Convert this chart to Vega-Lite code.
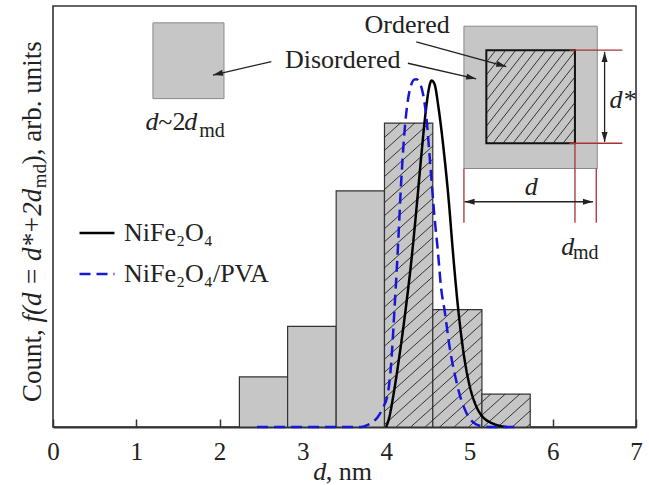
{
  "$schema": "https://vega.github.io/schema/vega-lite/v6.json",
  "width": 583,
  "height": 421,
  "autosize": {"type": "none"},
  "padding": {"left": 53, "top": 6, "right": 13, "bottom": 58},
  "background": "white",
  "config": {
    "view": {"stroke": "#333", "strokeWidth": 1.6},
    "font": "Liberation Serif",
    "axisX": {
      "grid": false,
      "title": null,
      "tickSize": -8,
      "tickColor": "#333",
      "tickWidth": 1.5,
      "domainColor": "#333",
      "domainWidth": 2,
      "labelFont": "Liberation Serif",
      "labelFontSize": 25,
      "labelColor": "#222",
      "labelPadding": 40,
      "labelBaseline": "alphabetic",
      "labelFlush": false,
      "labelOverlap": false
    }
  },
  "datasets": {
    "bars": [
      {"d0": 2.238, "d1": 2.817, "count": 11.9},
      {"d0": 2.817, "d1": 3.40, "count": 23.9},
      {"d0": 3.40, "d1": 3.98, "count": 56.1},
      {"d0": 3.98, "d1": 4.56, "count": 72.2},
      {"d0": 4.56, "d1": 5.15, "count": 27.9},
      {"d0": 5.15, "d1": 5.73, "count": 7.8}
    ],
    "hatch": [
      {"x": 4.469, "y": 0, "x2": 4.56, "y2": 1.62},
      {"x": 4.295, "y": 0, "x2": 4.56, "y2": 4.72},
      {"x": 4.12, "y": 0, "x2": 4.56, "y2": 7.82},
      {"x": 3.98, "y": 0.6, "x2": 4.56, "y2": 10.92},
      {"x": 3.98, "y": 3.7, "x2": 4.56, "y2": 14.02},
      {"x": 3.98, "y": 6.8, "x2": 4.56, "y2": 17.12},
      {"x": 3.98, "y": 9.9, "x2": 4.56, "y2": 20.22},
      {"x": 3.98, "y": 13.0, "x2": 4.56, "y2": 23.32},
      {"x": 3.98, "y": 16.1, "x2": 4.56, "y2": 26.42},
      {"x": 3.98, "y": 19.2, "x2": 4.56, "y2": 29.52},
      {"x": 3.98, "y": 22.3, "x2": 4.56, "y2": 32.62},
      {"x": 3.98, "y": 25.4, "x2": 4.56, "y2": 35.72},
      {"x": 3.98, "y": 28.5, "x2": 4.56, "y2": 38.82},
      {"x": 3.98, "y": 31.6, "x2": 4.56, "y2": 41.92},
      {"x": 3.98, "y": 34.7, "x2": 4.56, "y2": 45.02},
      {"x": 3.98, "y": 37.8, "x2": 4.56, "y2": 48.12},
      {"x": 3.98, "y": 40.9, "x2": 4.56, "y2": 51.22},
      {"x": 3.98, "y": 44.0, "x2": 4.56, "y2": 54.32},
      {"x": 3.98, "y": 47.1, "x2": 4.56, "y2": 57.42},
      {"x": 3.98, "y": 50.2, "x2": 4.56, "y2": 60.52},
      {"x": 3.98, "y": 53.3, "x2": 4.56, "y2": 63.62},
      {"x": 3.98, "y": 56.4, "x2": 4.56, "y2": 66.72},
      {"x": 3.98, "y": 59.5, "x2": 4.56, "y2": 69.82},
      {"x": 3.98, "y": 62.6, "x2": 4.519, "y2": 72.2},
      {"x": 3.98, "y": 65.7, "x2": 4.345, "y2": 72.2},
      {"x": 3.98, "y": 68.8, "x2": 4.171, "y2": 72.2},
      {"x": 4.991, "y": 0, "x2": 5.15, "y2": 2.83},
      {"x": 4.817, "y": 0, "x2": 5.15, "y2": 5.93},
      {"x": 4.643, "y": 0, "x2": 5.15, "y2": 9.03},
      {"x": 4.56, "y": 1.62, "x2": 5.15, "y2": 12.13},
      {"x": 4.56, "y": 4.72, "x2": 5.15, "y2": 15.23},
      {"x": 4.56, "y": 7.82, "x2": 5.15, "y2": 18.33},
      {"x": 4.56, "y": 10.92, "x2": 5.15, "y2": 21.43},
      {"x": 4.56, "y": 14.02, "x2": 5.15, "y2": 24.53},
      {"x": 4.56, "y": 17.12, "x2": 5.15, "y2": 27.63},
      {"x": 4.56, "y": 20.22, "x2": 4.991, "y2": 27.9},
      {"x": 4.56, "y": 23.32, "x2": 4.817, "y2": 27.9},
      {"x": 4.56, "y": 26.42, "x2": 4.643, "y2": 27.9},
      {"x": 5.688, "y": 0, "x2": 5.73, "y2": 0.75},
      {"x": 5.514, "y": 0, "x2": 5.73, "y2": 3.85},
      {"x": 5.34, "y": 0, "x2": 5.73, "y2": 6.95},
      {"x": 5.165, "y": 0, "x2": 5.604, "y2": 7.8},
      {"x": 5.15, "y": 2.83, "x2": 5.429, "y2": 7.8},
      {"x": 5.15, "y": 5.93, "x2": 5.255, "y2": 7.8},
      {"x": 6.125, "y": 67.4, "x2": 6.267, "y2": 71.0},
      {"x": 6.005, "y": 67.4, "x2": 6.267, "y2": 74.04},
      {"x": 5.884, "y": 67.4, "x2": 6.267, "y2": 77.08},
      {"x": 5.764, "y": 67.4, "x2": 6.267, "y2": 80.12},
      {"x": 5.644, "y": 67.4, "x2": 6.267, "y2": 83.16},
      {"x": 5.524, "y": 67.4, "x2": 6.267, "y2": 86.2},
      {"x": 5.404, "y": 67.4, "x2": 6.267, "y2": 89.24},
      {"x": 5.284, "y": 67.4, "x2": 6.157, "y2": 89.5},
      {"x": 5.203, "y": 68.4, "x2": 6.037, "y2": 89.5},
      {"x": 5.203, "y": 71.44, "x2": 5.917, "y2": 89.5},
      {"x": 5.203, "y": 74.48, "x2": 5.797, "y2": 89.5},
      {"x": 5.203, "y": 77.52, "x2": 5.677, "y2": 89.5},
      {"x": 5.203, "y": 80.56, "x2": 5.556, "y2": 89.5},
      {"x": 5.203, "y": 83.6, "x2": 5.436, "y2": 89.5},
      {"x": 5.203, "y": 86.64, "x2": 5.316, "y2": 89.5}
    ],
    "curves": [
      {"sample": "NiFe₂O₄", "d": 4.00, "f": 0},
      {"sample": "NiFe₂O₄", "d": 4.04, "f": 2.5},
      {"sample": "NiFe₂O₄", "d": 4.09, "f": 7.9},
      {"sample": "NiFe₂O₄", "d": 4.16, "f": 17},
      {"sample": "NiFe₂O₄", "d": 4.234, "f": 27.9},
      {"sample": "NiFe₂O₄", "d": 4.30, "f": 39},
      {"sample": "NiFe₂O₄", "d": 4.36, "f": 51},
      {"sample": "NiFe₂O₄", "d": 4.42, "f": 64},
      {"sample": "NiFe₂O₄", "d": 4.47, "f": 74},
      {"sample": "NiFe₂O₄", "d": 4.51, "f": 80},
      {"sample": "NiFe₂O₄", "d": 4.545, "f": 82.3},
      {"sample": "NiFe₂O₄", "d": 4.58, "f": 81.5},
      {"sample": "NiFe₂O₄", "d": 4.627, "f": 76.1},
      {"sample": "NiFe₂O₄", "d": 4.691, "f": 65.8},
      {"sample": "NiFe₂O₄", "d": 4.751, "f": 53.9},
      {"sample": "NiFe₂O₄", "d": 4.80, "f": 42},
      {"sample": "NiFe₂O₄", "d": 4.86, "f": 29},
      {"sample": "NiFe₂O₄", "d": 4.925, "f": 18.2},
      {"sample": "NiFe₂O₄", "d": 5.0, "f": 10.0},
      {"sample": "NiFe₂O₄", "d": 5.08, "f": 5.0},
      {"sample": "NiFe₂O₄", "d": 5.16, "f": 2.4},
      {"sample": "NiFe₂O₄", "d": 5.26, "f": 1.0},
      {"sample": "NiFe₂O₄", "d": 5.36, "f": 0.3},
      {"sample": "NiFe₂O₄", "d": 5.45, "f": 0},
      {"sample": "NiFe₂O₄/PVA", "d": 2.45, "f": 0},
      {"sample": "NiFe₂O₄/PVA", "d": 3.70, "f": 0},
      {"sample": "NiFe₂O₄/PVA", "d": 3.78, "f": 0.5},
      {"sample": "NiFe₂O₄/PVA", "d": 3.84, "f": 1.2},
      {"sample": "NiFe₂O₄/PVA", "d": 3.90, "f": 2.4},
      {"sample": "NiFe₂O₄/PVA", "d": 3.96, "f": 4.5},
      {"sample": "NiFe₂O₄/PVA", "d": 4.02, "f": 7.9},
      {"sample": "NiFe₂O₄/PVA", "d": 4.06, "f": 15},
      {"sample": "NiFe₂O₄/PVA", "d": 4.10, "f": 27.9},
      {"sample": "NiFe₂O₄/PVA", "d": 4.14, "f": 42},
      {"sample": "NiFe₂O₄/PVA", "d": 4.18, "f": 58},
      {"sample": "NiFe₂O₄/PVA", "d": 4.22, "f": 70},
      {"sample": "NiFe₂O₄/PVA", "d": 4.26, "f": 77.5},
      {"sample": "NiFe₂O₄/PVA", "d": 4.30, "f": 81.2},
      {"sample": "NiFe₂O₄/PVA", "d": 4.335, "f": 82.5},
      {"sample": "NiFe₂O₄/PVA", "d": 4.365, "f": 82.6},
      {"sample": "NiFe₂O₄/PVA", "d": 4.40, "f": 81.8},
      {"sample": "NiFe₂O₄/PVA", "d": 4.433, "f": 80},
      {"sample": "NiFe₂O₄/PVA", "d": 4.482, "f": 73.7},
      {"sample": "NiFe₂O₄/PVA", "d": 4.532, "f": 61.8},
      {"sample": "NiFe₂O₄/PVA", "d": 4.58, "f": 50},
      {"sample": "NiFe₂O₄/PVA", "d": 4.62, "f": 42},
      {"sample": "NiFe₂O₄/PVA", "d": 4.66, "f": 33},
      {"sample": "NiFe₂O₄/PVA", "d": 4.70, "f": 27.9},
      {"sample": "NiFe₂O₄/PVA", "d": 4.77, "f": 18},
      {"sample": "NiFe₂O₄/PVA", "d": 4.83, "f": 12},
      {"sample": "NiFe₂O₄/PVA", "d": 4.88, "f": 7.9},
      {"sample": "NiFe₂O₄/PVA", "d": 4.96, "f": 3.5},
      {"sample": "NiFe₂O₄/PVA", "d": 5.04, "f": 1.2},
      {"sample": "NiFe₂O₄/PVA", "d": 5.12, "f": 0.3},
      {"sample": "NiFe₂O₄/PVA", "d": 5.25, "f": 0},
      {"sample": "NiFe₂O₄/PVA", "d": 5.60, "f": 0}
    ],
    "insetRects": [
      {"x": 1.20, "x2": 2.053, "y": 78.0, "y2": 96.0},
      {"x": 4.934, "x2": 6.535, "y": 61.4, "y2": 95.2}
    ],
    "innerRect": [
      {"x": 5.203, "x2": 6.267, "y": 67.4, "y2": 89.5}
    ],
    "redLines": [
      {"x": 6.20, "y": 89.5, "x2": 6.835, "y2": 89.5},
      {"x": 6.20, "y": 67.4, "x2": 6.835, "y2": 67.4},
      {"x": 4.934, "y": 61.4, "x2": 4.934, "y2": 48.5},
      {"x": 6.267, "y": 67.4, "x2": 6.267, "y2": 48.5},
      {"x": 6.523, "y": 61.4, "x2": 6.523, "y2": 48.5}
    ],
    "arrows": [
      {"x": 2.622, "y": 86.8, "x2": 1.921, "y2": 83.6},
      {"x": 4.261, "y": 86.4, "x2": 5.081, "y2": 82.7},
      {"x": 4.362, "y": 91.5, "x2": 5.443, "y2": 85.6},
      {"x": 6.623, "y": 89.1, "x2": 6.623, "y2": 67.7},
      {"x": 4.942, "y": 53.5, "x2": 6.483, "y2": 53.5}
    ]
  },
  "layer": [
    {
      "data": {"name": "bars"},
      "mark": {"type": "rect", "fill": "#c6c6c6", "stroke": "#333", "strokeWidth": 1.2},
      "encoding": {
        "x": {"field": "d0", "type": "quantitative", "scale": {"domain": [0, 7], "nice": false, "zero": false}, "axis": {"values": [0, 1, 2, 3, 4, 5, 6, 7], "format": "d"}},
        "x2": {"field": "d1"},
        "y": {"field": "count", "type": "quantitative", "scale": {"domain": [0, 100], "nice": false}, "axis": null},
        "y2": {"datum": 0}
      }
    },
    {
      "data": {"name": "insetRects"},
      "mark": {"type": "rect", "fill": "#c6c6c6", "stroke": "#8a8a8a", "strokeWidth": 1},
      "encoding": {
        "x": {"field": "x", "type": "quantitative"},
        "x2": {"field": "x2"},
        "y": {"field": "y", "type": "quantitative", "axis": null},
        "y2": {"field": "y2"}
      }
    },
    {
      "data": {"name": "innerRect"},
      "mark": {"type": "rect", "fill": "#c6c6c6", "stroke": "#111", "strokeWidth": 2},
      "encoding": {
        "x": {"field": "x", "type": "quantitative"},
        "x2": {"field": "x2"},
        "y": {"field": "y", "type": "quantitative", "axis": null},
        "y2": {"field": "y2"}
      }
    },
    {
      "data": {"name": "hatch"},
      "mark": {"type": "rule", "color": "#222", "strokeWidth": 0.9},
      "encoding": {
        "x": {"field": "x", "type": "quantitative"},
        "x2": {"field": "x2"},
        "y": {"field": "y", "type": "quantitative", "axis": null},
        "y2": {"field": "y2"}
      }
    },
    {
      "data": {"name": "redLines"},
      "mark": {"type": "rule", "color": "#a83232", "strokeWidth": 1.3},
      "encoding": {
        "x": {"field": "x", "type": "quantitative"},
        "x2": {"field": "x2"},
        "y": {"field": "y", "type": "quantitative", "axis": null},
        "y2": {"field": "y2"}
      }
    },
    {
      "data": {"name": "arrows"},
      "mark": {"type": "rule", "color": "#222", "strokeWidth": 1.3},
      "encoding": {
        "x": {"field": "x", "type": "quantitative"},
        "x2": {"field": "x2"},
        "y": {"field": "y", "type": "quantitative", "axis": null},
        "y2": {"field": "y2"}
      }
    },
    {
      "data": {"values": [{"x": 1.921, "y": 83.6}]},
      "mark": {"type": "point", "shape": "M0,0L0.6,2L-0.6,2Z", "size": 100, "filled": true, "color": "#222", "opacity": 1, "angle": 257},
      "encoding": {"x": {"field": "x", "type": "quantitative"}, "y": {"field": "y", "type": "quantitative", "axis": null}}
    },
    {
      "data": {"values": [{"x": 5.081, "y": 82.7}]},
      "mark": {"type": "point", "shape": "M0,0L0.6,2L-0.6,2Z", "size": 100, "filled": true, "color": "#222", "opacity": 1, "angle": 103},
      "encoding": {"x": {"field": "x", "type": "quantitative"}, "y": {"field": "y", "type": "quantitative", "axis": null}}
    },
    {
      "data": {"values": [{"x": 5.443, "y": 85.6}]},
      "mark": {"type": "point", "shape": "M0,0L0.6,2L-0.6,2Z", "size": 100, "filled": true, "color": "#222", "opacity": 1, "angle": 105.5},
      "encoding": {"x": {"field": "x", "type": "quantitative"}, "y": {"field": "y", "type": "quantitative", "axis": null}}
    },
    {
      "data": {"values": [{"x": 6.623, "y": 89.1}]},
      "mark": {"type": "point", "shape": "M0,0L0.6,2L-0.6,2Z", "size": 100, "filled": true, "color": "#222", "opacity": 1, "angle": 0},
      "encoding": {"x": {"field": "x", "type": "quantitative"}, "y": {"field": "y", "type": "quantitative", "axis": null}}
    },
    {
      "data": {"values": [{"x": 6.623, "y": 67.7}]},
      "mark": {"type": "point", "shape": "M0,0L0.6,2L-0.6,2Z", "size": 100, "filled": true, "color": "#222", "opacity": 1, "angle": 180},
      "encoding": {"x": {"field": "x", "type": "quantitative"}, "y": {"field": "y", "type": "quantitative", "axis": null}}
    },
    {
      "data": {"values": [{"x": 4.942, "y": 53.5}]},
      "mark": {"type": "point", "shape": "M0,0L0.6,2L-0.6,2Z", "size": 100, "filled": true, "color": "#222", "opacity": 1, "angle": 270},
      "encoding": {"x": {"field": "x", "type": "quantitative"}, "y": {"field": "y", "type": "quantitative", "axis": null}}
    },
    {
      "data": {"values": [{"x": 6.483, "y": 53.5}]},
      "mark": {"type": "point", "shape": "M0,0L0.6,2L-0.6,2Z", "size": 100, "filled": true, "color": "#222", "opacity": 1, "angle": 90},
      "encoding": {"x": {"field": "x", "type": "quantitative"}, "y": {"field": "y", "type": "quantitative", "axis": null}}
    },
    {
      "data": {"name": "curves"},
      "mark": {"type": "line", "strokeWidth": 2.5, "interpolate": "monotone"},
      "encoding": {
        "x": {"field": "d", "type": "quantitative"},
        "y": {"field": "f", "type": "quantitative", "axis": null},
        "color": {
          "field": "sample", "type": "nominal",
          "scale": {"domain": ["NiFe₂O₄", "NiFe₂O₄/PVA"], "range": ["#000000", "#1717d8"]},
          "legend": {
            "orient": "none", "legendX": 25, "legendY": 208, "title": null,
            "symbolType": "stroke", "symbolSize": 1225, "symbolStrokeWidth": 2.5,
            "labelFont": "Liberation Serif", "labelFontSize": 26, "labelColor": "#222",
            "labelOffset": 8, "rowPadding": 9, "padding": 0, "labelLimit": 300
          }
        },
        "strokeDash": {
          "field": "sample", "type": "nominal",
          "scale": {"domain": ["NiFe₂O₄", "NiFe₂O₄/PVA"], "range": [[1, 0], [11, 6]]}
        }
      }
    },
    {
      "data": {"values": [{"x": 4.252, "y": 93.5, "text": "Ordered"}, {"x": 3.478, "y": 85.3, "text": "Disordered"}]},
      "mark": {"type": "text", "font": "Liberation Serif", "fontSize": 26, "fill": "#222", "align": "center", "baseline": "alphabetic"},
      "encoding": {"x": {"field": "x", "type": "quantitative"}, "y": {"field": "y", "type": "quantitative", "axis": null}, "text": {"field": "text"}}
    },
    {
      "data": {"values": [{"x": 1.265, "y": 70.5, "text": "~2"}, {"x": 3.274, "y": -12.7, "text": ", nm"}]},
      "mark": {"type": "text", "font": "Liberation Serif", "fontSize": 26, "fill": "#222", "align": "left", "baseline": "alphabetic"},
      "encoding": {"x": {"field": "x", "type": "quantitative"}, "y": {"field": "y", "type": "quantitative", "axis": null}, "text": {"field": "text"}}
    },
    {
      "data": {"values": [
        {"x": 1.111, "y": 70.5, "text": "d"},
        {"x": 1.575, "y": 70.5, "text": "d"},
        {"x": 5.663, "y": 55.0, "text": "d"},
        {"x": 6.683, "y": 75.7, "text": "d*"},
        {"x": 6.103, "y": 40.8, "text": "d"},
        {"x": 3.125, "y": -12.7, "text": "d"}
      ]},
      "mark": {"type": "text", "font": "Liberation Serif", "fontSize": 26, "fontStyle": "italic", "fill": "#222", "align": "left", "baseline": "alphabetic"},
      "encoding": {"x": {"field": "x", "type": "quantitative"}, "y": {"field": "y", "type": "quantitative", "axis": null}, "text": {"field": "text"}}
    },
    {
      "data": {"values": [{"x": 1.755, "y": 69.0, "text": "md"}, {"x": 6.243, "y": 40.0, "text": "md"}]},
      "mark": {"type": "text", "font": "Liberation Serif", "fontSize": 20, "fill": "#222", "align": "left", "baseline": "alphabetic"},
      "encoding": {"x": {"field": "x", "type": "quantitative"}, "y": {"field": "y", "type": "quantitative", "axis": null}, "text": {"field": "text"}}
    },
    {
      "data": {"values": [{"x": -0.148, "y": 5.94, "text": "Count, "}, {"x": -0.148, "y": 62.4, "text": "), arb. units"}]},
      "mark": {"type": "text", "font": "Liberation Serif", "fontSize": 27, "fill": "#222", "align": "left", "baseline": "alphabetic", "angle": 270},
      "encoding": {"x": {"field": "x", "type": "quantitative"}, "y": {"field": "y", "type": "quantitative", "axis": null}, "text": {"field": "text"}}
    },
    {
      "data": {"values": [{"x": -0.148, "y": 24.8, "text": "f(d = d*+2d"}]},
      "mark": {"type": "text", "font": "Liberation Serif", "fontSize": 27, "fontStyle": "italic", "fill": "#222", "align": "left", "baseline": "alphabetic", "angle": 270},
      "encoding": {"x": {"field": "x", "type": "quantitative"}, "y": {"field": "y", "type": "quantitative", "axis": null}, "text": {"field": "text"}}
    },
    {
      "data": {"values": [{"x": -0.085, "y": 56.7, "text": "md"}]},
      "mark": {"type": "text", "font": "Liberation Serif", "fontSize": 19, "fill": "#222", "align": "left", "baseline": "alphabetic", "angle": 270},
      "encoding": {"x": {"field": "x", "type": "quantitative"}, "y": {"field": "y", "type": "quantitative", "axis": null}, "text": {"field": "text"}}
    }
  ]
}
